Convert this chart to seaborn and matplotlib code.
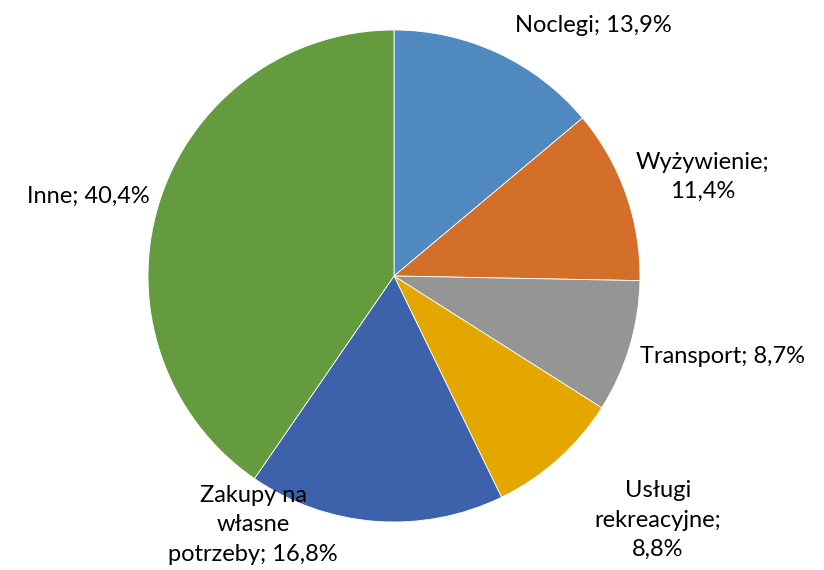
import matplotlib
matplotlib.use("Agg")
import matplotlib.pyplot as plt
import seaborn as sns

categories = ["Noclegi", "Wyżywienie", "Transport", "Usługi\nrekreacyjne", "Zakupy na\nwłasne\npotrzeby", "Inne"]
shares = [13.9, 11.4, 8.7, 8.8, 16.8, 40.4]
label_texts = ["Noclegi; 13,9%", "Wyżywienie;\n11,4%", "Transport; 8,7%",
               "Usługi\nrekreacyjne;\n8,8%", "Zakupy na\nwłasne\npotrzeby; 16,8%", "Inne; 40,4%"]
colors = ["#4F89BF", "#D46F2A", "#959595", "#E3A700", "#3D62AB", "#649B3F"]

sns.set_theme(style="white")
plt.rcParams["font.family"] = ["Lato", "DejaVu Sans"]

fig = plt.figure(figsize=(8.24, 5.70), dpi=100)
W, H = 824, 570
cx, cy, r = 394, 276, 246
ax = fig.add_axes([(cx - r) / W, (H - cy - r) / H, 2 * r / W, 2 * r / H])

ax.pie(shares, colors=colors, startangle=90, counterclock=False, radius=1,
       wedgeprops=dict(edgecolor="white", linewidth=0.6))
ax.set_xlim(-1, 1)
ax.set_ylim(-1, 1)
ax.set_aspect("equal")
ax.axis("off")

# label anchor points, in units of the pie radius
label_pos = [(0.809, 1.020), (1.256, 0.402), (1.337, -0.329),
             (1.073, -0.992), (-0.573, -1.012), (-1.244, 0.325)]
for txt, (x, y) in zip(label_texts, label_pos):
    ax.text(x, y, txt, ha="center", va="center", fontsize=17, color="black",
            linespacing=1.48, clip_on=False)

fig.savefig("out.png", dpi=100)
